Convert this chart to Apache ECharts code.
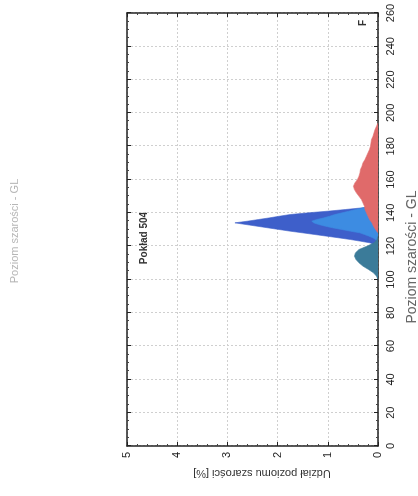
<!DOCTYPE html>
<html>
<head>
<meta charset="utf-8">
<script src="https://cdn.jsdelivr.net/npm/echarts@6/dist/echarts.min.js"></script>
<style>
  html, body { margin: 0; padding: 0; background: #ffffff; width: 418px; height: 496px; overflow: hidden; }
  #chart { position: absolute; width: 496px; height: 418px; left: -39px; top: 39px; transform: rotate(-90deg); transform-origin: 50% 50%; }
</style>
</head>
<body>
<div id="chart"></div>
<script>
// Gray level (GL) axis ticks and share axis ticks
const glTicks = [0, 20, 40, 60, 80, 100, 120, 140, 160, 180, 200, 220, 240, 260];
const shareTicks = [0, 1, 2, 3, 4, 5];

// Series 1 - teal
const tealGL  = [100, 102, 104, 106, 108, 110, 112, 114, 116, 118, 120, 122, 124, 126];
const tealVal = [0, 0.03, 0.09, 0.19, 0.3, 0.38, 0.44, 0.47, 0.45, 0.38, 0.22, 0.08, 0.02, 0];

// Series 2 - dark blue
const darkGL  = [119, 120, 121, 122, 123, 124, 125, 126, 127, 128, 129, 130, 131, 132, 133, 134, 135, 136, 137, 138, 139, 140, 141, 142, 143, 144, 145, 146];
const darkVal = [0, 0.03, 0.08, 0.16, 0.35, 0.55, 0.78, 1.02, 1.26, 1.5, 1.75, 1.97, 2.19, 2.41, 2.63, 2.85, 2.6, 2.38, 2.16, 1.96, 1.75, 1.4, 1.0, 0.65, 0.32, 0.12, 0.04, 0];

// Series 3 - light blue
const lightGL  = [122, 124, 125, 126, 127, 128, 129, 130, 131, 132, 133, 134, 135, 136, 137, 138, 139, 140, 141, 142, 143, 144, 145, 146];
const lightVal = [0, 0.05, 0.1, 0.18, 0.27, 0.36, 0.55, 0.72, 0.9, 1.05, 1.18, 1.28, 1.32, 1.22, 1.08, 0.96, 0.86, 0.72, 0.58, 0.45, 0.3, 0.15, 0.05, 0];

// Series 4 - red
const redGL  = [128, 130, 132, 134, 136, 138, 140, 142, 144, 146, 148, 150, 152, 154, 156, 158, 160, 162, 164, 166, 168, 170, 172, 174, 176, 178, 180, 182, 184, 186, 188, 190, 192, 194];
const redVal = [0, 0.05, 0.09, 0.12, 0.17, 0.2, 0.23, 0.26, 0.27, 0.3, 0.33, 0.38, 0.43, 0.47, 0.49, 0.46, 0.41, 0.38, 0.36, 0.35, 0.32, 0.3, 0.26, 0.23, 0.2, 0.17, 0.15, 0.14, 0.13, 0.1, 0.08, 0.06, 0.03, 0];

const xTitle = 'Poziom szarości - GL';
const yTitle = 'Udział poziomu szarości [%]';
const note = 'Pokład 504';
const panel = 'F';

function pairs(xs, ys) { return xs.map((x, i) => [x, ys[i]]); }

const font = '"Liberation Sans", Arial, sans-serif';
const chart = echarts.init(document.getElementById('chart'), null, { renderer: 'canvas' });

function areaSeries(name, xs, ys, color, z) {
  return {
    name: name, type: 'line', data: pairs(xs, ys), symbol: 'none', z: z,
    lineStyle: { width: 0.6, color: color },
    areaStyle: { color: color, opacity: 1 },
    silent: true, animation: false
  };
}

const axisCommon = {
  axisLine: { show: true, onZero: false, lineStyle: { color: '#222', width: 1.5 } },
  axisTick: { show: true, inside: true, length: 4, lineStyle: { color: '#222', width: 1 } }
};

chart.setOption({
  backgroundColor: '#ffffff',
  animation: false,
  grid: { left: 50, right: 13, top: 127, bottom: 40, containLabel: false },
  xAxis: [
    Object.assign({
      type: 'value', min: glTicks[0], max: glTicks[glTicks.length - 1], interval: 20,
      position: 'bottom',
      axisLabel: { show: true, margin: 7, color: '#222', fontSize: 11, fontFamily: font },
      splitLine: { show: true, lineStyle: { color: '#cfcfcf', type: [2, 2], width: 1 } }
    }, axisCommon, { minorTick: { show: true, splitNumber: 4, length: 2, lineStyle: { color: '#444' } } }),
    Object.assign({
      type: 'value', min: glTicks[0], max: glTicks[glTicks.length - 1], interval: 20,
      position: 'top', axisLabel: { show: false }, splitLine: { show: false }
    }, axisCommon, { minorTick: { show: true, splitNumber: 4, length: 2, lineStyle: { color: '#444' } } })
  ],
  yAxis: [
    Object.assign({
      type: 'value', min: shareTicks[0], max: shareTicks[shareTicks.length - 1], interval: 1,
      position: 'left',
      axisLabel: { show: true, margin: 6, color: '#222', fontSize: 11, fontFamily: font },
      splitLine: { show: true, lineStyle: { color: '#cfcfcf', type: [2, 2], width: 1 } }
    }, axisCommon, { minorTick: { show: true, splitNumber: 5, length: 2, lineStyle: { color: '#444' } } }),
    Object.assign({
      type: 'value', min: shareTicks[0], max: shareTicks[shareTicks.length - 1], interval: 1,
      position: 'right', axisLabel: { show: false }, splitLine: { show: false }
    }, axisCommon, { minorTick: { show: true, splitNumber: 5, length: 2, lineStyle: { color: '#444' } } })
  ],
  series: [
    areaSeries('dark', darkGL, darkVal, '#3e5fca', 2),
    areaSeries('light', lightGL, lightVal, '#3d8ce2', 3),
    areaSeries('teal', tealGL, tealVal, '#3b7b99', 4),
    areaSeries('red', redGL, redVal, '#e06a6a', 5)
  ],
  graphic: [
    { type: 'text', x: 239, y: 412, style: { text: xTitle, font: '14px ' + font, fill: '#666', align: 'center', verticalAlign: 'middle' } },
    { type: 'text', x: 23, y: 262, rotation: Math.PI / 2, style: { text: yTitle, font: '11px ' + font, fill: '#333', align: 'center', verticalAlign: 'middle' } },
    { type: 'text', x: 265, y: 15, style: { text: xTitle, font: '11px ' + font, fill: '#b5b5b5', align: 'center', verticalAlign: 'middle' } },
    { type: 'text', x: 258, y: 144, style: { text: note, font: 'bold 10px ' + font, fill: '#333', align: 'center', verticalAlign: 'middle' } },
    { type: 'text', x: 473, y: 363, style: { text: panel, font: 'bold 10px ' + font, fill: '#333', align: 'center', verticalAlign: 'middle' } }
  ]
});
</script>
</body>
</html>
